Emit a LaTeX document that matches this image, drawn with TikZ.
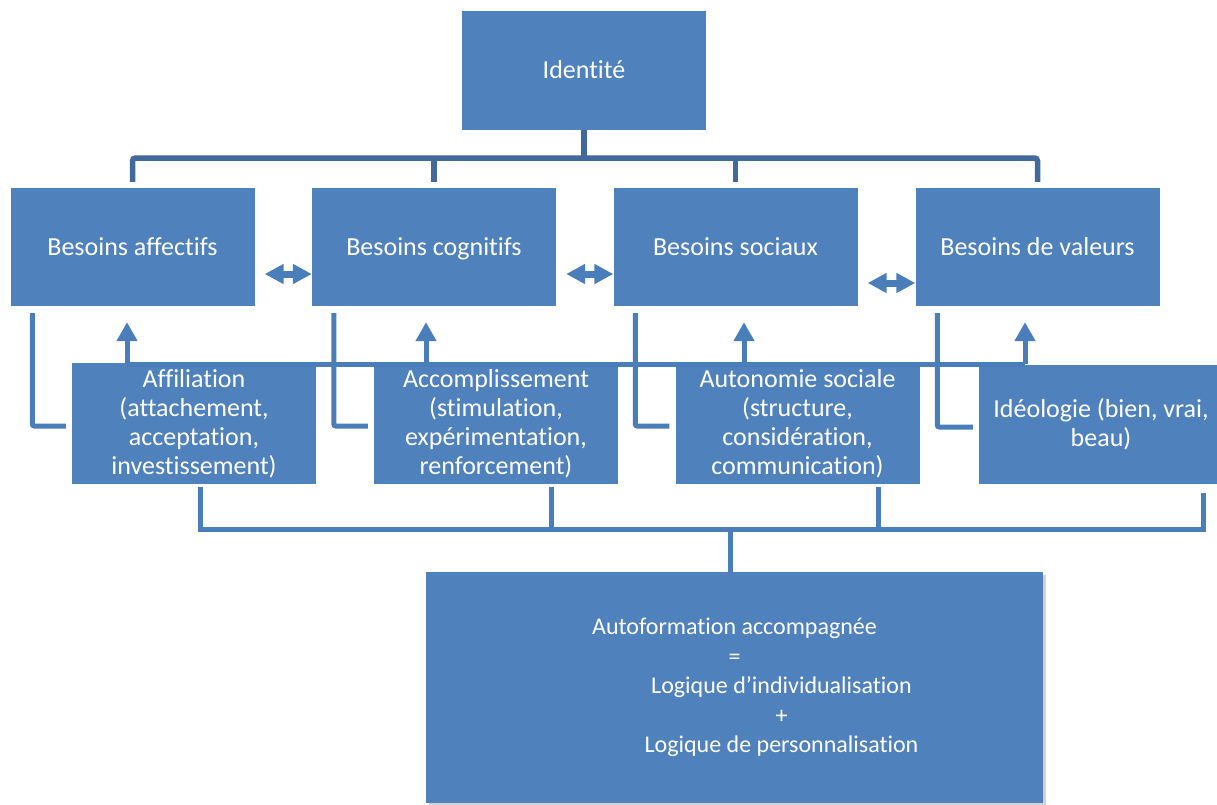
\documentclass[tikz,border=0pt]{standalone}
\usepackage{fontspec}
\setmainfont{Carlito}[Ligatures={NoCommon}]
\usetikzlibrary{arrows.meta,shadows}
\definecolor{boxblue}{HTML}{4F81BD}
\definecolor{linkblue}{HTML}{4A7EBB}
\definecolor{topblue}{HTML}{41699C}
\tikzset{
  box/.style={fill=boxblue, text=white, align=center, inner sep=0pt,
    minimum width=244pt, font=\fontsize{26}{29}\selectfont},
  onebox/.style={box, minimum height=118pt, text height=22pt, text depth=6pt},
  link/.style={draw=linkblue, line width=5pt},
  toplink/.style={draw=topblue, line width=5.5pt, rounded corners=3pt},
  uparrow/.style={link, -{Triangle[length=19pt,width=20pt]}},
  dblarrow/.style={draw=linkblue, line width=7pt,
    {Triangle[length=19pt,width=19pt]}-{Triangle[length=19pt,width=19pt]}}
}
\begin{document}
\begin{tikzpicture}[x=1pt,y=-1pt]
  \fill[white] (0,0) rectangle (1217,804);
  \useasboundingbox (0,0) rectangle (1217,804);
  % boxes
  \node[onebox, minimum height=119pt] (identite) at (584,70.5) {Identité};
  \node[onebox] (affectifs) at (132.5,247) {Besoins affectifs};
  \node[onebox] (cognitifs) at (434,247) {Besoins cognitifs};
  \node[onebox] (sociaux) at (735.5,247) {Besoins sociaux};
  \node[onebox] (valeurs) at (1037.5,247) {Besoins de valeurs};
  \node[box, minimum height=121pt] (affiliation) at (194,423.5)
    {Affiliation\\(attachement,\\acceptation,\\investissement)};
  \node[box, minimum height=121pt] (accomplissement) at (496,423.5)
    {Accomplissement\\(stimulation,\\expérimentation,\\renforcement)};
  \node[box, minimum height=121pt] (autonomie) at (797.5,423.5)
    {Autonomie sociale\\(structure,\\considération,\\communication)};
  \node[box, minimum height=119pt] (ideologie) at (1101,424.5)
    {Idéologie (bien, vrai,\\beau)};
  \node[box, minimum width=617pt, minimum height=231pt,
    font=\fontsize{24}{29.5}\selectfont,
    drop shadow={shadow xshift=3pt, shadow yshift=-3pt, fill=gray, opacity=.35}]
    (autoformation) at (734.5,687.5)
    {Autoformation accompagnée\\=\\\hspace*{94pt}Logique d’individualisation\\
     \hspace*{94pt}+\\\hspace*{94pt}Logique de personnalisation};
  % top bracket
  \coordinate (topbar) at (585,158);
  \draw[toplink] (identite.south) -- (identite.south |- topbar);
  \draw[toplink, shorten <=6pt, shorten >=6pt] (affectifs.north) |- (topbar) -| (valeurs.north);
  \draw[toplink, shorten <=6pt] (cognitifs.north) -- (cognitifs.north |- topbar);
  \draw[toplink, shorten <=6pt] (sociaux.north) -- (sociaux.north |- topbar);
  % double arrows
  \draw[dblarrow, shorten <=10pt] ([yshift=-27pt]affectifs.east) -- ([yshift=-27pt]cognitifs.west);
  \draw[dblarrow, shorten <=10pt] ([yshift=-27pt]cognitifs.east) -- ([yshift=-27pt]sociaux.west);
  \draw[dblarrow, shorten <=10pt] ([yshift=-36pt]sociaux.east) -- ([yshift=-36pt]valeurs.west);
  % bus and up arrows
  \coordinate (bus1) at (127,364);
  \coordinate (bus2) at (426,364);
  \coordinate (bus3) at (744,364);
  \coordinate (bus4) at (1025,364);
  \draw[link] (bus1) -- (bus4);
  \foreach \b/\n in {bus1/affectifs, bus2/cognitifs, bus3/sociaux, bus4/valeurs}
    \draw[uparrow, shorten >=16pt] (\b) -- (\b |- \n.south);
  % return lines
  \foreach \a/\b in {affectifs/affiliation, cognitifs/accomplissement,
                     sociaux/autonomie, valeurs/ideologie}
    \draw[link, rounded corners=2pt] ([xshift=22pt,yshift=-7pt]\a.south west)
      |- ([xshift=-6pt,yshift=-2.5pt]\b.west);
  % bottom bracket
  \coordinate (bar1) at (200,529.5);
  \coordinate (bar2) at (551,529.5);
  \coordinate (bar3) at (878,529.5);
  \coordinate (bar4) at (1203,529.5);
  \coordinate (barmid) at (730,529.5);
  \draw[link, shorten <=3pt, shorten >=9pt] (affiliation.south -| bar1) -- (bar1)
    -- (bar4) -- (ideologie.south -| bar4);
  \draw[link, shorten <=3pt] (accomplissement.south -| bar2) -- (bar2);
  \draw[link, shorten <=3pt] (autonomie.south -| bar3) -- (bar3);
  \draw[link] (barmid) -- (barmid |- autoformation.north);
\end{tikzpicture}
\end{document}
